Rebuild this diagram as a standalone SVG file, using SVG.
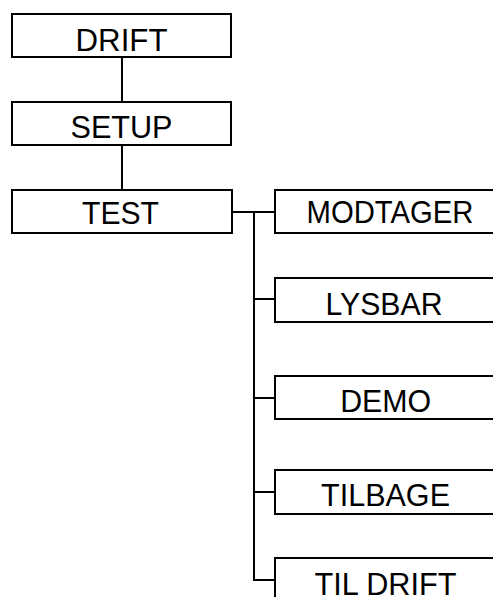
<svg xmlns="http://www.w3.org/2000/svg" width="493" height="597" viewBox="0 0 493 597">
<style>
.box{fill:#fff;stroke:#000;stroke-width:2}
.lbl{font-family:"Liberation Sans",Arial,sans-serif;font-size:32px;fill:#000;text-anchor:middle}
.con{fill:none;stroke:#000;stroke-width:2}
</style>
<rect width="493" height="597" fill="#fff"/>
<g id="connectors">
<line class="con" x1="122" y1="57" x2="122" y2="102"/>
<line class="con" x1="122" y1="145" x2="122" y2="190"/>
<line class="con" x1="232" y1="212" x2="275" y2="212"/>
<polyline class="con" points="254,212 254,580 275,580"/>
<line class="con" x1="254" y1="299" x2="275" y2="299"/>
<line class="con" x1="254" y1="398" x2="275" y2="398"/>
<line class="con" x1="254" y1="492" x2="275" y2="492"/>
</g>
<g id="drift"><rect class="box" x="12" y="14" width="219" height="43"/><text class="lbl" x="121.5" y="51" textLength="92" lengthAdjust="spacingAndGlyphs">DRIFT</text></g>
<g id="setup"><rect class="box" x="12" y="102" width="219" height="43"/><text class="lbl" x="121.5" y="138" textLength="102" lengthAdjust="spacingAndGlyphs">SETUP</text></g>
<g id="test"><rect class="box" x="12" y="190" width="220" height="43"/><text class="lbl" x="120.5" y="224" textLength="77" lengthAdjust="spacingAndGlyphs">TEST</text></g>
<g id="modtager"><rect class="box" x="275" y="190" width="230" height="43"/><text class="lbl" x="390" y="223" textLength="167" lengthAdjust="spacingAndGlyphs">MODTAGER</text></g>
<g id="lysbar"><rect class="box" x="275" y="278" width="230" height="44"/><text class="lbl" x="384" y="315" textLength="117" lengthAdjust="spacingAndGlyphs">LYSBAR</text></g>
<g id="demo"><rect class="box" x="275" y="376" width="230" height="43"/><text class="lbl" x="385.7" y="412" textLength="91" lengthAdjust="spacingAndGlyphs">DEMO</text></g>
<g id="tilbage"><rect class="box" x="275" y="470" width="230" height="44"/><text class="lbl" x="385.5" y="506" textLength="129" lengthAdjust="spacingAndGlyphs">TILBAGE</text></g>
<g id="tildrift"><rect class="box" x="275" y="558" width="230" height="60"/><text class="lbl" x="385.5" y="595" textLength="142" lengthAdjust="spacingAndGlyphs">TIL DRIFT</text></g>
</svg>
